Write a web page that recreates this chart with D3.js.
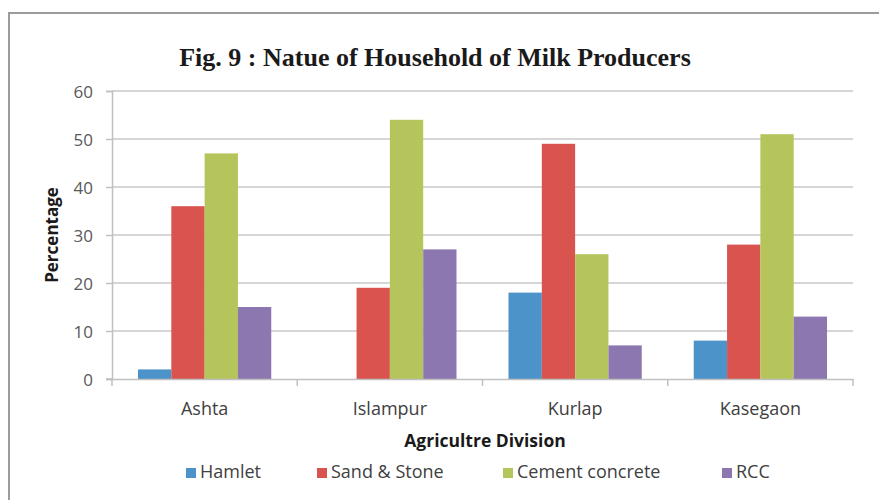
<!DOCTYPE html>
<html>
<head>
<meta charset="utf-8">
<script src="https://cdn.jsdelivr.net/npm/d3@7"></script>
<style>
  html, body { margin: 0; padding: 0; background: #fff; }
  svg { display: block; }
</style>
</head>
<body>
<svg id="chart" width="879" height="500"></svg>
<script>
// Nature of household of milk producers, by agriculture division (%)
const divisions = ["Ashta", "Islampur", "Kurlap", "Kasegaon"];
const seriesNames = ["Hamlet", "Sand & Stone", "Cement concrete", "RCC"];
const hamlet = [2, 0, 18, 8];
const sandStone = [36, 19, 49, 28];
const cementConcrete = [47, 54, 26, 51];
const rcc = [15, 27, 7, 13];
const yTicks = [0, 10, 20, 30, 40, 50, 60];
const colors = ["#4c93c9", "#d9534f", "#b6c55b", "#8c77b0"];

const seriesValues = [hamlet, sandStone, cementConcrete, rcc];
const rows = divisions.map((d, i) => ({
  division: d,
  values: seriesNames.map((s, j) => ({ key: s, value: seriesValues[j][i], idx: j }))
}));

const svg = d3.select("#chart");
const plot = { left: 112, right: 853, top: 91, bottom: 379 };
const labelFont = "'Open Sans', sans-serif";

// outer frame
svg.append("rect")
  .attr("x", 9).attr("y", 13)
  .attr("width", 900).attr("height", 520)
  .attr("fill", "none").attr("stroke", "#9c9c9c").attr("stroke-width", 2);

// title
svg.append("text")
  .attr("x", 435).attr("y", 66)
  .attr("text-anchor", "middle")
  .attr("font-family", "'Liberation Serif', 'Times New Roman', serif")
  .attr("font-weight", "bold")
  .attr("font-size", 26)
  .attr("fill", "#1a1a1a")
  .text("Fig. 9 : Natue of Household of Milk Producers");

const x0 = d3.scaleBand().domain(divisions).range([plot.left, plot.right]).padding(0);
const x1 = d3.scaleBand().domain(seriesNames)
  .range([26, x0.bandwidth() - 26]).padding(0);
const y = d3.scaleLinear().domain([0, 60]).range([plot.bottom, plot.top]);

// horizontal gridlines
svg.append("g")
  .selectAll("line")
  .data(yTicks.filter(t => t > 0))
  .join("line")
  .attr("x1", plot.left).attr("x2", plot.right)
  .attr("y1", d => y(d)).attr("y2", d => y(d))
  .attr("stroke", "#c8c8c8").attr("stroke-width", 1.5);

// bars
const groups = svg.append("g")
  .selectAll("g")
  .data(rows)
  .join("g")
  .attr("transform", d => `translate(${x0(d.division)},0)`);

groups.selectAll("rect")
  .data(d => d.values)
  .join("rect")
  .attr("x", d => x1(d.key))
  .attr("width", x1.bandwidth())
  .attr("y", d => y(d.value))
  .attr("height", d => y(0) - y(d.value))
  .attr("fill", d => colors[d.idx]);

// y axis
const yAxis = svg.append("g")
  .attr("transform", `translate(${plot.left},0)`)
  .call(d3.axisLeft(y).tickValues(yTicks).tickSize(6).tickPadding(13).tickFormat(d3.format("d")));
yAxis.select(".domain").attr("stroke", "#c0c0c0").attr("stroke-width", 1.5);
yAxis.selectAll(".tick line").attr("stroke", "#c0c0c0").attr("stroke-width", 1.5);
yAxis.selectAll(".tick text")
  .attr("font-family", labelFont).attr("font-size", 17)
  .attr("fill", "#595959").attr("dy", "0.4em");

// x axis
const xAxis = svg.append("g")
  .attr("transform", `translate(0,${plot.bottom})`)
  .call(d3.axisBottom(x0).tickSize(0).tickPadding(23));
xAxis.select(".domain").attr("stroke", "#c0c0c0").attr("stroke-width", 1.5);
xAxis.selectAll(".tick text")
  .attr("font-family", labelFont).attr("font-size", 18)
  .attr("fill", "#404040");

// category separator ticks
const bounds = divisions.map(d => x0(d)).concat([plot.right]);
xAxis.append("g")
  .selectAll("line")
  .data(bounds)
  .join("line")
  .attr("x1", d => d).attr("x2", d => d)
  .attr("y1", 0).attr("y2", 7)
  .attr("stroke", "#c0c0c0").attr("stroke-width", 1.5);
// left end of the category axis meets the 0 tick
xAxis.append("line")
  .attr("x1", plot.left - 6).attr("x2", plot.left)
  .attr("y1", 0).attr("y2", 0)
  .attr("stroke", "#c0c0c0").attr("stroke-width", 1.5);

// axis titles
svg.append("text")
  .attr("transform", `translate(58,235) rotate(-90)`)
  .attr("text-anchor", "middle")
  .attr("font-family", labelFont).attr("font-weight", "bold")
  .attr("font-size", 17).attr("fill", "#1a1a1a")
  .text("Percentage");

svg.append("text")
  .attr("x", 485).attr("y", 447)
  .attr("text-anchor", "middle")
  .attr("font-family", labelFont).attr("font-weight", "bold")
  .attr("font-size", 17.5).attr("fill", "#1a1a1a")
  .text("Agricultre Division");

// legend
const legendX = [186, 317, 503, 722];
const legend = svg.append("g")
  .selectAll("g")
  .data(seriesNames)
  .join("g")
  .attr("transform", (d, i) => `translate(${legendX[i]},468)`);
legend.append("rect")
  .attr("width", 10).attr("height", 10)
  .attr("fill", (d, i) => colors[i]);
legend.append("text")
  .attr("x", 14).attr("y", 10)
  .attr("font-family", labelFont).attr("font-size", 18)
  .attr("fill", "#404040")
  .text(d => d);
</script>
</body>
</html>
